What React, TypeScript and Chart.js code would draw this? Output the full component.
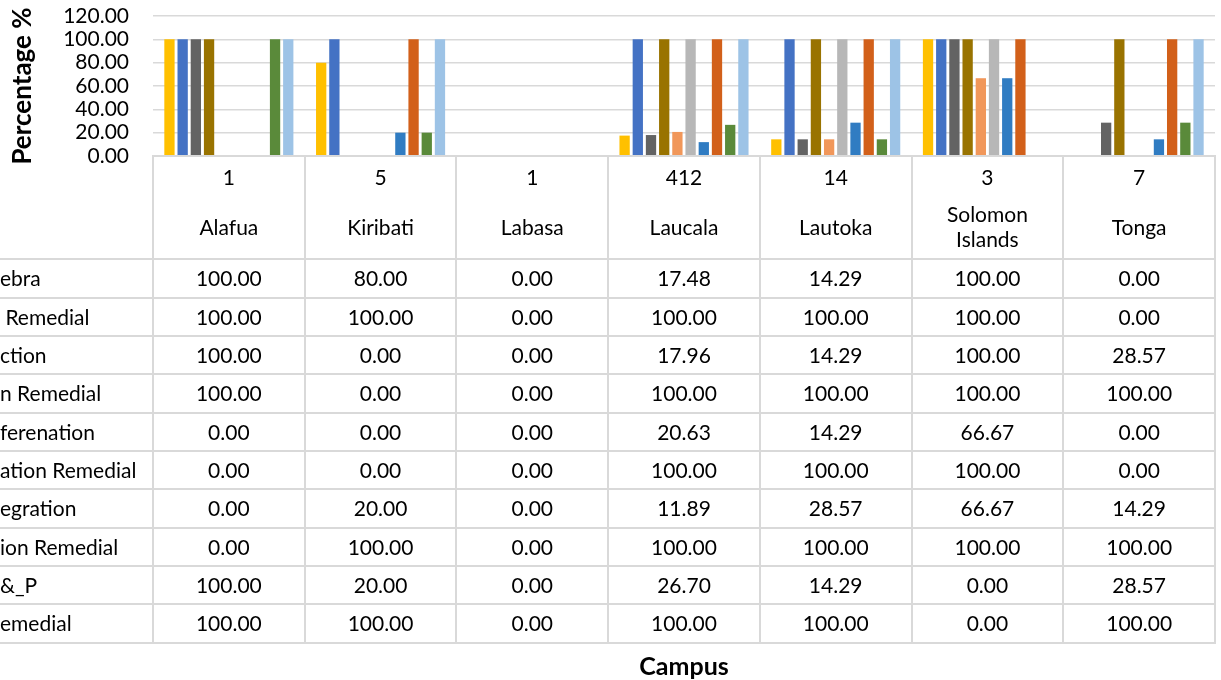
import React, { useEffect, useRef } from "react";
import { Chart, registerables } from "chart.js";

Chart.register(...registerables);

// ---------- data ----------
const campuses = ["Alafua", "Kiribati", "Labasa", "Laucala", "Lautoka", "Solomon Islands", "Tonga"];
const campusCounts = ["1", "5", "1", "412", "14", "3", "7"];
const yTicks = [0, 20, 40, 60, 80, 100, 120];

// row headers as visible (left part is cut off in the reference)
const seriesLabels = [
  "ebra",
  " Remedial",
  "ction",
  "n Remedial",
  "ferenation",
  "ation Remedial",
  "egration",
  "ion Remedial",
  "&_P",
  "emedial",
];

const algebra = [100, 80, 0, 17.48, 14.29, 100, 0];
const algebraRemedial = [100, 100, 0, 100, 100, 100, 0];
const functionS = [100, 0, 0, 17.96, 14.29, 100, 28.57];
const functionRemedial = [100, 0, 0, 100, 100, 100, 100];
const differenation = [0, 0, 0, 20.63, 14.29, 66.67, 0];
const differenationRemedial = [0, 0, 0, 100, 100, 100, 0];
const integration = [0, 20, 0, 11.89, 28.57, 66.67, 14.29];
const integrationRemedial = [0, 100, 0, 100, 100, 100, 100];
const lp = [100, 20, 0, 26.7, 14.29, 0, 28.57];
const lpRemedial = [100, 100, 0, 100, 100, 0, 100];

const seriesValues = [
  algebra,
  algebraRemedial,
  functionS,
  functionRemedial,
  differenation,
  differenationRemedial,
  integration,
  integrationRemedial,
  lp,
  lpRemedial,
];

const seriesColors = [
  "#FFC000",
  "#4472C4",
  "#636363",
  "#997300",
  "#F1975A",
  "#B7B7B7",
  "#307CC2",
  "#D2601A",
  "#5A8A3A",
  "#9DC3E6",
];

// ---------- layout ----------
const W = 1221;
const H = 680;
const LEFT = 153;
const RIGHT = 1215;
const TOP = 16;
const BASE = 156;
const HEADER_H = 103.3;
const ROW_H = 38.35;
const FONT = "Lato, 'Open Sans', sans-serif";
const FS = 21;
const FS_TITLE = 26;
const FS_XTITLE = 25;
const LINE = "#D9D9D9";
const TEXT = "#000000";

export default function App() {
  const canvasRef = useRef<HTMLCanvasElement | null>(null);

  useEffect(() => {
    const canvas = canvasRef.current;
    if (!canvas) return;
    const chart = new Chart(canvas, {
      type: "bar",
      data: {
        labels: campuses,
        datasets: seriesValues.map((vals, i) => ({
          label: seriesLabels[i],
          data: vals,
          backgroundColor: seriesColors[i],
          borderWidth: 0,
          categoryPercentage: 0.87,
          barPercentage: 0.78,
        })),
      },
      options: {
        responsive: false,
        animation: false,
        events: [],
        layout: { padding: { left: 0, top: TOP, right: W - RIGHT, bottom: H - BASE } },
        plugins: { legend: { display: false }, tooltip: { enabled: false } },
        scales: {
          x: { display: false },
          y: {
            min: 0,
            max: 120,
            afterBuildTicks: (scale: any) => {
              scale.ticks = yTicks.map((v) => ({ value: v }));
            },
            afterFit: (scale: any) => {
              scale.width = LEFT;
              scale.paddingTop = 0;
              scale.paddingBottom = 0;
            },
            ticks: {
              autoSkip: false,
              padding: 24,
              color: TEXT,
              font: { family: FONT, size: FS },
              callback: (v: any) => Number(v).toFixed(2),
            },
            grid: { color: LINE, lineWidth: 1.6, drawTicks: false },
            border: { display: false },
            title: {
              display: true,
              text: "Percentage %",
              color: TEXT,
              font: { family: FONT, size: FS_TITLE, weight: "bold" },
              padding: { top: 7, bottom: 0 },
            },
          },
        },
      },
    });
    return () => chart.destroy();
  }, []);

  const colW = (RIGHT - LEFT) / campuses.length;
  const tableTop = BASE;
  const rowsTop = tableTop + HEADER_H;
  const tableBottom = rowsTop + ROW_H * seriesLabels.length;

  const hLines: React.ReactNode[] = [];
  hLines.push(
    <div key="h-top" style={{ position: "absolute", left: LEFT, top: tableTop - 1, width: RIGHT - LEFT, height: 2, background: LINE }} />
  );
  for (let i = 0; i <= seriesLabels.length; i++) {
    const y = rowsTop + i * ROW_H;
    hLines.push(
      <div key={"h" + i} style={{ position: "absolute", left: 0, top: y - 1, width: RIGHT, height: 2, background: LINE }} />
    );
  }
  const vLines: React.ReactNode[] = [];
  for (let j = 0; j <= campuses.length; j++) {
    const x = LEFT + j * colW;
    vLines.push(
      <div key={"v" + j} style={{ position: "absolute", left: x - 1, top: tableTop - 1, width: 2, height: tableBottom - tableTop + 2, background: LINE }} />
    );
  }

  const cellText: React.CSSProperties = {
    position: "absolute",
    fontFamily: FONT,
    fontSize: FS,
    color: TEXT,
    textAlign: "center",
    whiteSpace: "nowrap",
  };

  return (
    <div style={{ position: "absolute", left: 0, top: 0, width: W, height: H, background: "#fff", overflow: "hidden" }}>
      <canvas ref={canvasRef} width={W} height={H} style={{ position: "absolute", left: 0, top: 0, width: W, height: H }} />
      {hLines}
      {vLines}
      {campuses.map((c, j) => (
        <React.Fragment key={"hdr" + j}>
          <div style={{ ...cellText, left: LEFT + j * colW, width: colW, top: tableTop + 8, height: 26, lineHeight: "26px" }}>
            {campusCounts[j]}
          </div>
          <div
            style={{
              ...cellText,
              left: LEFT + j * colW + 10,
              width: colW - 20,
              top: tableTop + 38,
              height: 64,
              lineHeight: "25px",
              whiteSpace: "normal",
              display: "flex",
              alignItems: "center",
              justifyContent: "center",
            }}
          >
            <span style={{ display: "block", textAlign: "center" }}>{c === "Solomon Islands" ? <>Solomon<br />Islands</> : c}</span>
          </div>
        </React.Fragment>
      ))}
      {seriesLabels.map((lab, i) => (
        <React.Fragment key={"row" + i}>
          <div style={{ ...cellText, textAlign: "left", left: 0, top: rowsTop + i * ROW_H, height: ROW_H, lineHeight: ROW_H + "px", whiteSpace: "pre" }}>
            {lab}
          </div>
          {seriesValues[i].map((v, j) => (
            <div key={"c" + i + "-" + j} style={{ ...cellText, left: LEFT + j * colW, width: colW, top: rowsTop + i * ROW_H, height: ROW_H, lineHeight: ROW_H + "px" }}>
              {v.toFixed(2)}
            </div>
          ))}
        </React.Fragment>
      ))}
      <div style={{ ...cellText, left: LEFT, width: RIGHT - LEFT, top: 650, height: 30, lineHeight: "30px", fontWeight: "bold", fontSize: FS_XTITLE }}>
        Campus
      </div>
    </div>
  );
}
